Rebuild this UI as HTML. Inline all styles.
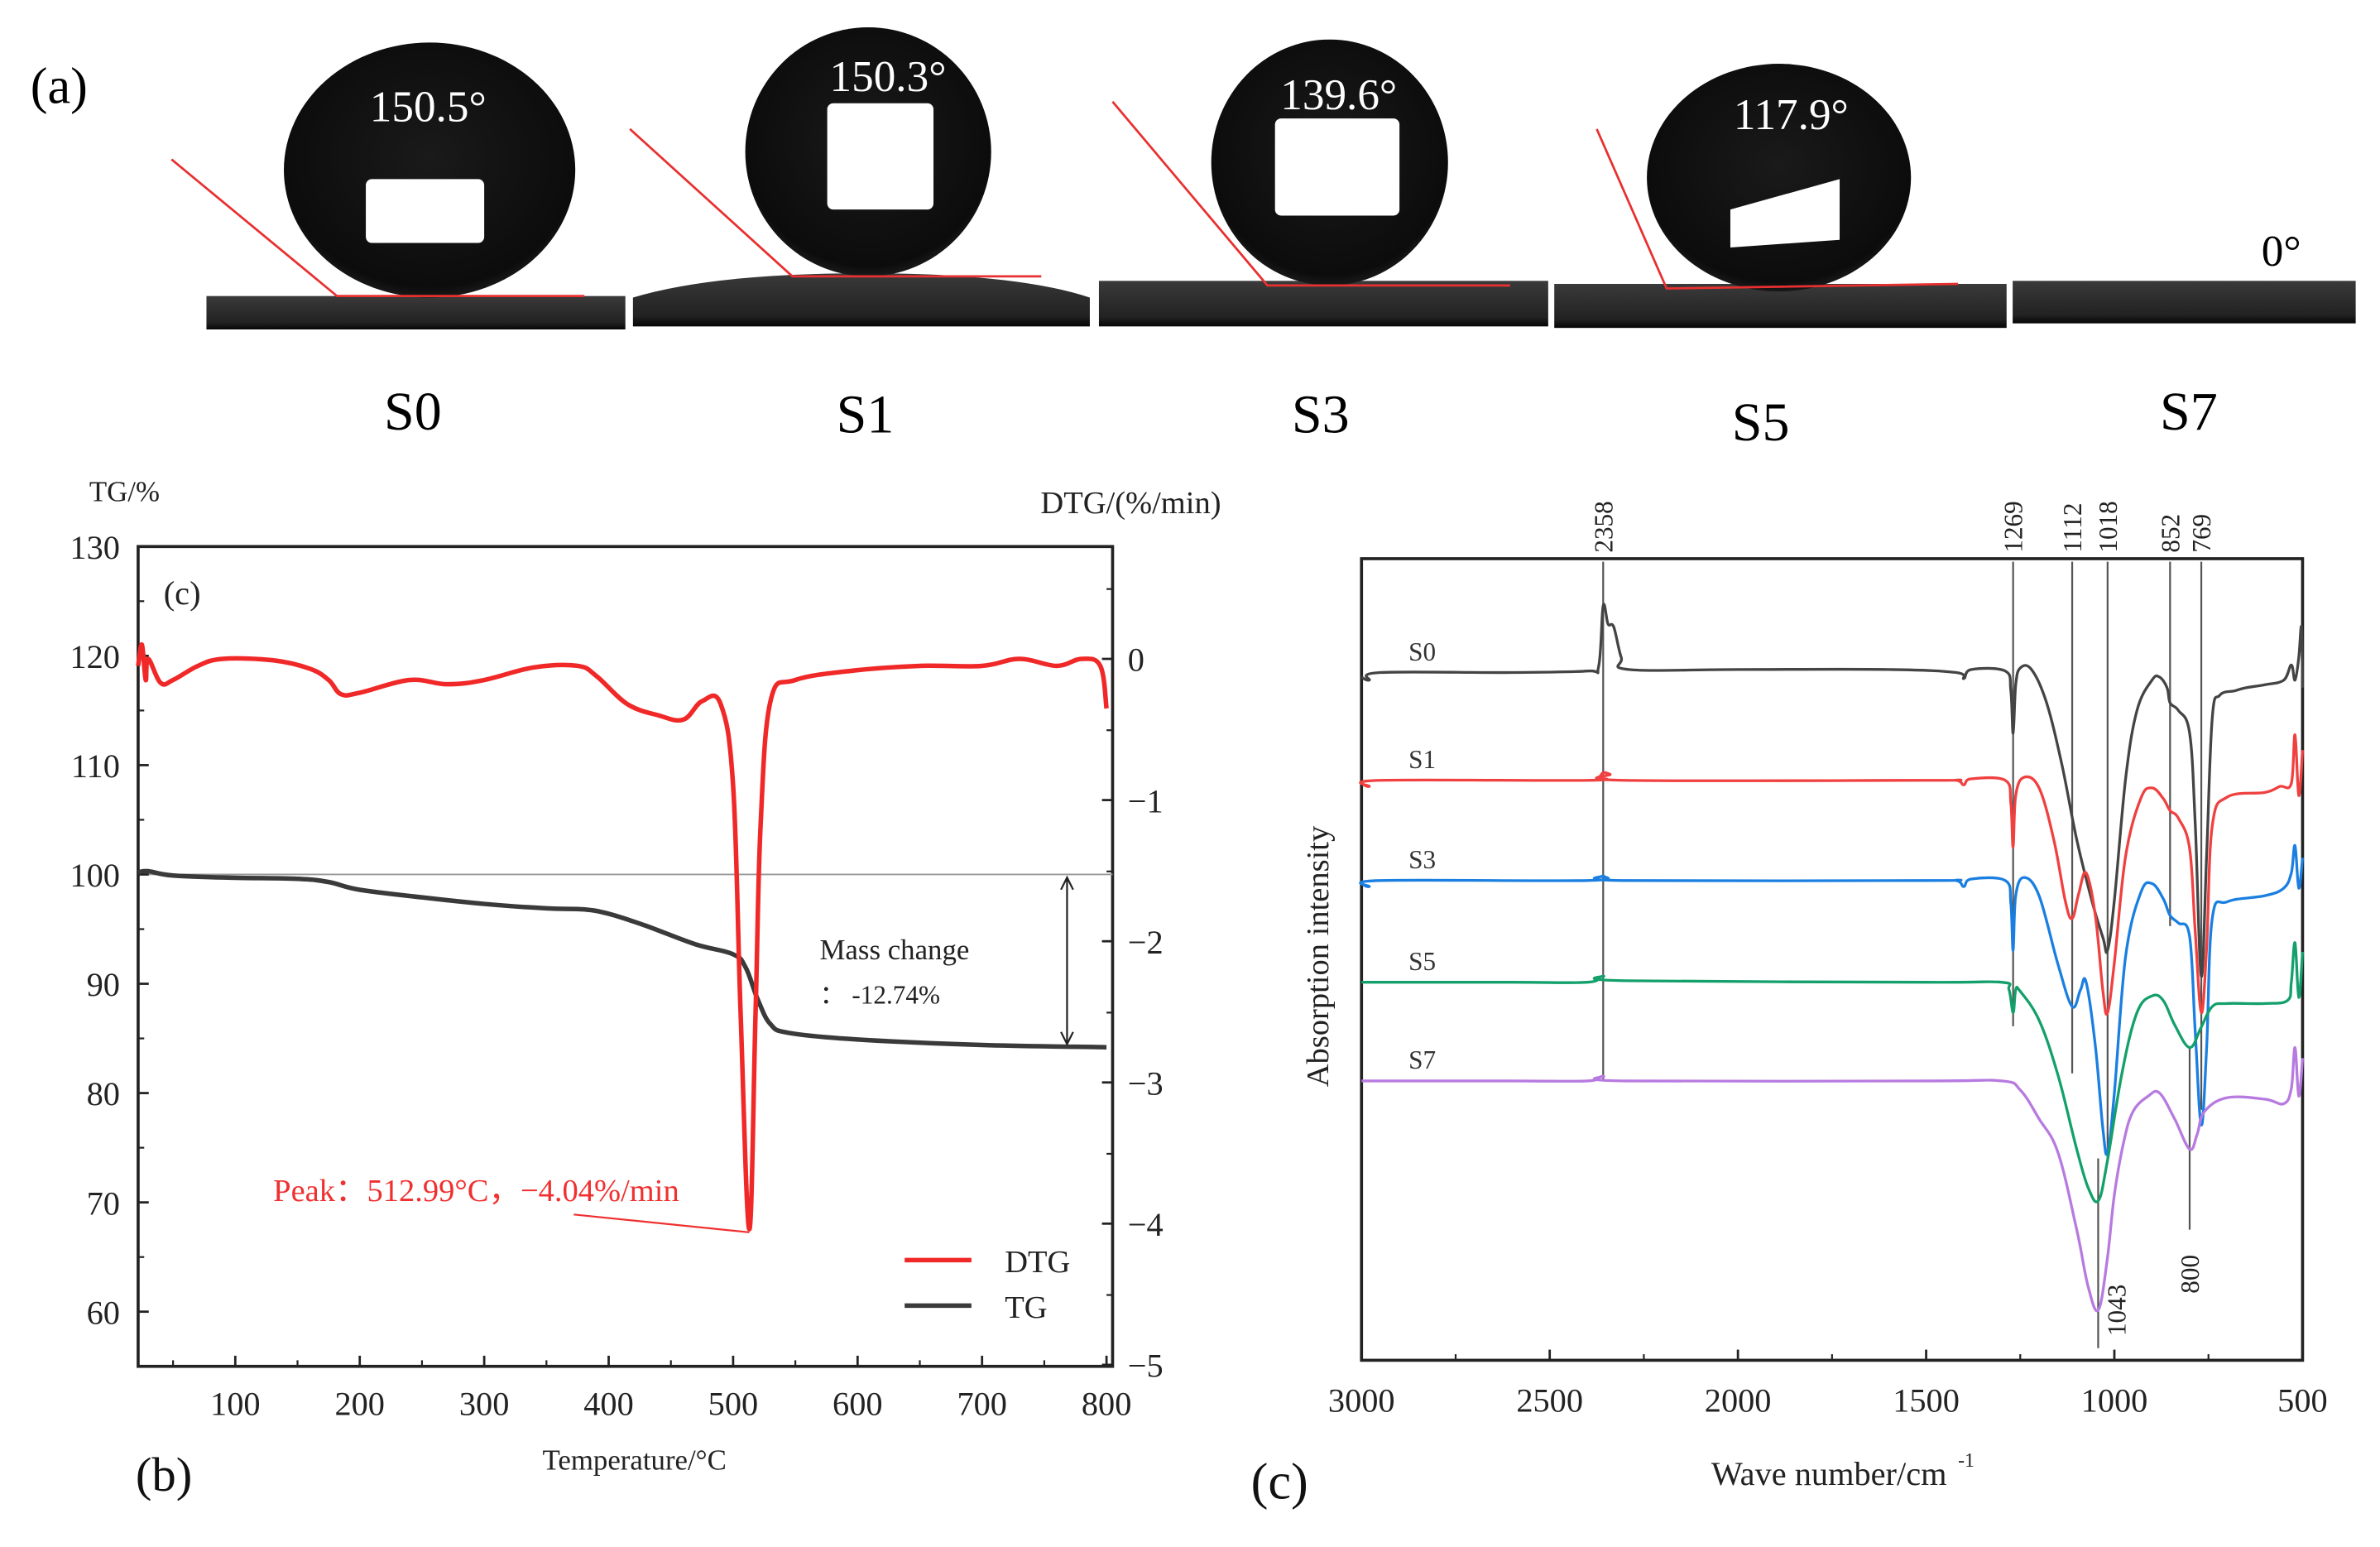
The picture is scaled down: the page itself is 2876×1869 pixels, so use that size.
<!DOCTYPE html>
<html><head><meta charset="utf-8"><style>
html,body{margin:0;padding:0;background:#fff}
svg{display:block}
text{font-family:"Liberation Serif",serif}
</style></head><body>
<svg id="fig" width="2876" height="1869" viewBox="0 0 1568 1019" xmlns="http://www.w3.org/2000/svg">
<defs>
<linearGradient id="sub" x1="0" y1="0" x2="0" y2="1"><stop offset="0" stop-color="#3a3a3a"/><stop offset="0.8" stop-color="#222"/><stop offset="1" stop-color="#050505"/></linearGradient>
<radialGradient id="drop" cx="0.5" cy="0.45" r="0.6"><stop offset="0" stop-color="#1a1a1a"/><stop offset="0.85" stop-color="#0c0c0c"/><stop offset="1" stop-color="#2a2a2a"/></radialGradient>
</defs>
<g id="panelA">
<text x="20" y="68" font-size="34">(a)</text>
<rect x="136" y="195" width="276" height="22" fill="url(#sub)"/>
<path d="M417 215 L417 196 Q470 180 570 180 Q670 180 718 196 L718 215 Z" fill="url(#sub)"/>
<rect x="724" y="185" width="296" height="30" fill="url(#sub)"/>
<rect x="1024" y="187" width="298" height="29" fill="url(#sub)"/>
<rect x="1326" y="185" width="226" height="28" fill="url(#sub)"/>
<ellipse cx="283" cy="112" rx="96" ry="84" fill="url(#drop)"/>
<rect x="241" y="118" width="78" height="42" fill="#fff" rx="4"/>
<ellipse cx="572" cy="100" rx="81" ry="82" fill="url(#drop)"/>
<rect x="545" y="68" width="70" height="70" fill="#fff" rx="4"/>
<ellipse cx="876" cy="107" rx="78" ry="81" fill="url(#drop)"/>
<rect x="840" y="78" width="82" height="64" fill="#fff" rx="4"/>
<ellipse cx="1172" cy="117" rx="87" ry="75" fill="url(#drop)"/>
<polygon points="1140,138 1212,118 1212,158 1140,163" fill="#fff"/>
<g stroke="#e83030" stroke-width="1.5" fill="none">
<path d="M113 105 L222 195 L385 195"/>
<path d="M415 85 L522 182 L686 182"/>
<path d="M733 67 L835 188 L995 188"/>
<path d="M1052 85 L1098 190 L1290 187"/>
</g>
<g fill="#fff" font-size="29" text-anchor="middle">
<text x="282" y="80">150.5°</text>
<text x="585" y="60">150.3°</text>
<text x="882" y="72">139.6°</text>
<text x="1180" y="85">117.9°</text>
</g>
<text x="1503" y="175" font-size="29" text-anchor="middle">0°</text>
<g font-size="36" text-anchor="middle">
<text x="272" y="283">S0</text>
<text x="570" y="285">S1</text>
<text x="870" y="285">S3</text>
<text x="1160" y="290">S5</text>
<text x="1442" y="283">S7</text>
</g>
</g>
<g id="panelB"></g>
<g id="panelC"></g>
</svg>
<script>
const tgTemp = [22,30,50,100,150,175,200,250,300,350,380,400,430,470,500,510,520,530,545,600,700,800];
const tgValue = [100.2,100.3,99.9,99.7,99.6,99.3,98.6,97.9,97.3,96.9,96.8,96.4,95.3,93.6,92.7,91.5,88.5,86.3,85.5,84.9,84.4,84.2];
const dtgTemp = [22,25,28,30,40,50,70,90,130,160,175,185,200,240,270,300,340,375,390,415,440,460,475,490,500,506,512.99,518,522,530,550,600,650,700,730,760,780,795,800];
const dtgValue = [-0.05,0.1,-0.15,0.0,-0.17,-0.15,-0.05,0.0,-0.01,-0.07,-0.15,-0.25,-0.24,-0.15,-0.18,-0.15,-0.06,-0.05,-0.12,-0.32,-0.40,-0.43,-0.30,-0.32,-0.9,-2.5,-4.04,-2.5,-1.2,-0.3,-0.15,-0.08,-0.05,-0.05,0.0,-0.05,0.0,-0.05,-0.35];
const tempTicks = [100,200,300,400,500,600,700,800];
const tgTicks = [60,70,80,90,100,110,120,130];
const dtgTicks = [0,-1,-2,-3,-4,-5];

const ftirTicks = [3000,2500,2000,1500,1000,500];
const seriesNames = ['S0','S1','S3','S5','S7'];
const seriesOffsets = [0,-71,-137,-204,-269];
const s0Wave = [3000,2980,2950,2600,2400,2370,2358,2345,2330,2310,2290,2000,1600,1420,1400,1380,1290,1275,1269,1262,1250,1220,1180,1140,1100,1060,1030,1018,1000,970,940,900,880,860,852,830,800,785,769,755,740,720,680,650,600,550,530,520,510,503,500];
const s0Val = [-3,-5,0,0,1,4,44,32,30,10,2,2,2,0,-4,2,1,-12,-40,-8,3,2,-20,-60,-110,-150,-175,-183,-150,-70,-25,-5,-3,-10,-20,-25,-40,-100,-200,-120,-30,-15,-12,-10,-8,-5,5,-5,10,30,-10];
const s1Wave = [3000,2980,2950,2400,2370,2358,2340,2300,1500,1420,1400,1380,1290,1275,1269,1262,1240,1200,1160,1130,1112,1095,1075,1050,1030,1018,1000,970,930,900,870,852,830,800,785,769,755,740,700,600,560,530,520,510,500];
const s1Val = [-2,-4,0,0,2,5,4,0,0,0,-3,1,0,-15,-44,-10,2,-5,-40,-80,-91,-75,-61,-90,-140,-153,-120,-50,-12,-5,-12,-20,-25,-45,-100,-153,-110,-30,-11,-8,-4,-2,30,-10,20];
const s3Wave = [3000,2980,2950,2400,2358,2300,1500,1420,1400,1380,1290,1275,1269,1262,1240,1200,1150,1112,1090,1075,1050,1030,1018,1000,970,930,900,870,852,830,800,785,769,755,740,700,600,550,530,520,510,500];
const s3Val = [-2,-4,0,0,3,0,0,0,-4,1,0,-15,-46,-10,2,-10,-55,-83,-72,-67,-110,-165,-179,-140,-50,-8,-2,-12,-23,-28,-37,-100,-161,-110,-25,-14,-10,-5,5,23,-5,15];
const s5Wave = [3000,2600,2400,2358,2300,1500,1300,1280,1269,1262,1250,1200,1150,1100,1070,1043,1020,980,940,900,870,840,800,770,740,700,600,540,530,520,510,500];
const s5Val = [0,0,0,4,1,0,0,-5,-20,-5,-6,-25,-61,-110,-135,-144,-120,-60,-20,-9,-12,-28,-43,-30,-16,-14,-14,-12,0,26,-10,20];
const s7Wave = [3000,2600,2400,2358,2300,1500,1300,1250,1200,1150,1100,1070,1043,1020,1000,975,950,910,880,840,800,780,760,700,600,550,530,520,510,500];
const s7Val = [0,0,0,3,0,0,0,-6,-25,-47,-98,-135,-151,-120,-75,-40,-20,-10,-8,-25,-45,-35,-20,-11,-12,-15,-5,22,-10,15];
const peakLabelsTop = [2358,1269,1112,1018,852,769];
const peakLabelsBottom = [1043,800];

const NS = 'http://www.w3.org/2000/svg';
function mk(tag, attrs, parent, txt){
  const e = document.createElementNS(NS, tag);
  for (const k in attrs) e.setAttribute(k, attrs[k]);
  if (txt !== undefined) e.textContent = txt;
  parent.appendChild(e);
  return e;
}
function smooth(pts){
  let d='M'+pts[0][0].toFixed(1)+' '+pts[0][1].toFixed(1);
  for(let i=0;i<pts.length-1;i++){
    const p0=pts[Math.max(0,i-1)],p1=pts[i],p2=pts[i+1],p3=pts[Math.min(pts.length-1,i+2)];
    const t=0.18;
    const c1=[p1[0]+(p2[0]-p0[0])*t,p1[1]+(p2[1]-p0[1])*t];
    const c2=[p2[0]-(p3[0]-p1[0])*t,p2[1]-(p3[1]-p1[1])*t];
    d+=` C${c1[0].toFixed(1)} ${c1[1].toFixed(1)} ${c2[0].toFixed(1)} ${c2[1].toFixed(1)} ${p2[0].toFixed(1)} ${p2[1].toFixed(1)}`;
  }
  return d;
}

(function(){
  const g = document.getElementById('panelB');
  const L=91,R=733,T=360,B=900;
  const xS = t => 73 + t*0.82;
  const yTG = v => 360 + (130-v)*7.2;
  const yDTG = v => 434 - v*93;
  let e;
  e = mk('rect',{x:L,y:T,width:R-L,height:B-T,fill:'none',stroke:'#222','stroke-width':2},g);
  
  
  e = mk('line',{x1:L,x2:R,y1:yTG(100),y2:yTG(100),stroke:'#999','stroke-width':1},g);
  
  
  tempTicks.forEach(t=>{
    const x=xS(t);
    e = mk('line',{x1:x,x2:x,y1:B,y2:B-7,stroke:'#222','stroke-width':1.5},g);
    
    
    e = mk('line',{x1:xS(t-50),x2:xS(t-50),y1:B,y2:B-4,stroke:'#222','stroke-width':1.2},g);
    
    
    e = mk('text',{x:x,y:B+32,'font-size':22,'text-anchor':'middle',fill:'#222'},g,String(t));
    
    
  });
  tgTicks.forEach(v=>{
    const y=yTG(v);
    e = mk('line',{x1:L,x2:L+7,y1:y,y2:y,stroke:'#222','stroke-width':1.5},g);
    
    
    e = mk('line',{x1:L,x2:L+4,y1:y+36,y2:y+36,stroke:'#222','stroke-width':1.2},g);
    
    
    e = mk('text',{x:L-12,y:y+8,'font-size':22,'text-anchor':'end',fill:'#222'},g,String(v));
    
    
  });
  dtgTicks.forEach(v=>{
    const y=yDTG(v);
    e = mk('line',{x1:R,x2:R-7,y1:y,y2:y,stroke:'#222','stroke-width':1.5},g);
    
    
    e = mk('line',{x1:R,x2:R-4,y1:y-46,y2:y-46,stroke:'#222','stroke-width':1.2},g);
    
    
    e = mk('text',{x:R+10,y:y+8,'font-size':22,fill:'#222'},g,v===0?'0':'\u2212'+Math.abs(v));
    
    
  });
  let d = smooth(tgTemp.map((t,i)=>[xS(t),yTG(tgValue[i])]));
  e = mk('path',{d:d,fill:'none',stroke:'#3a3a3a','stroke-width':3,'stroke-linejoin':'round'},g);
  
  
  d = smooth(dtgTemp.map((t,i)=>[xS(t),yDTG(dtgValue[i])]));
  e = mk('path',{d:d,fill:'none',stroke:'#f02828','stroke-width':3,'stroke-linejoin':'round'},g);
  
  
  e = mk('text',{x:82,y:330,'font-size':19,'text-anchor':'middle',fill:'#222'},g,'TG/%');
  
  
  e = mk('text',{x:745,y:338,'font-size':21,'text-anchor':'middle',fill:'#222'},g,'DTG/(%/min)');
  
  
  e = mk('text',{x:120,y:398,'font-size':22,'text-anchor':'middle',fill:'#222'},g,'(c)');
  
  
  e = mk('text',{x:108,y:982,'font-size':32,'text-anchor':'middle',fill:'#111'},g,'(b)');
  
  
  e = mk('text',{x:418,y:968,'font-size':19,'text-anchor':'middle',fill:'#222'},g,'Temperature/°C');
  
  
  e = mk('text',{x:540,y:632,'font-size':19,fill:'#222'},g,'Mass change');
  
  
  e = mk('text',{x:540,y:661,'font-size':17,fill:'#222'},g,'\uFF1A -12.74%');
  
  
  e = mk('path',{d:`M703 ${yTG(100)+2} L703 ${yTG(84.2)-2} M699 ${yTG(100)+10} L703 ${yTG(100)+2} L707 ${yTG(100)+10} M699 ${yTG(84.2)-10} L703 ${yTG(84.2)-2} L707 ${yTG(84.2)-10}`,stroke:'#222','stroke-width':1.2,fill:'none'},g);
  
  
  e = mk('text',{x:180,y:791,'font-size':21,fill:'#f03030'},g,'Peak\uFF1A512.99°C\uFF0C\u22124.04%/min');
  
  
  e = mk('line',{x1:378,y1:800,x2:xS(512.99),y2:yDTG(-4.04)+2,stroke:'#f03030','stroke-width':1.2},g);
  
  
  e = mk('line',{x1:596,x2:640,y1:830,y2:830,stroke:'#f02828','stroke-width':3},g);
  
  
  e = mk('text',{x:662,y:838,'font-size':21,fill:'#222'},g,'DTG');
  
  
  e = mk('line',{x1:596,x2:640,y1:860,y2:860,stroke:'#3a3a3a','stroke-width':3},g);
  
  
  e = mk('text',{x:662,y:868,'font-size':21,fill:'#222'},g,'TG');
  
  
})();

(function(){
  const g = document.getElementById('panelC');
  const L=897,R=1517,T=368,B=896;
  const xW = w => L + (3000-w)*(R-L)/2500;
  const base0 = 443;
  const yI = (v,off) => base0 - off - v;
  let e;
  e = mk('rect',{x:L,y:T,width:R-L,height:B-T,fill:'none',stroke:'#222','stroke-width':2},g);
  
  
  ftirTicks.forEach(w=>{
    const x=xW(w);
    e = mk('line',{x1:x,x2:x,y1:B,y2:B-7,stroke:'#222','stroke-width':1.5},g);
    
    
    if (w>500){
      e = mk('line',{x1:xW(w-250),x2:xW(w-250),y1:B,y2:B-4,stroke:'#222','stroke-width':1.2},g);
      
      
    }
    e = mk('text',{x:x,y:B+34,'font-size':22,'text-anchor':'middle',fill:'#222'},g,String(w));
    
    
  });
  const colors=['#444','#f04040','#1a7fe0','#13a06a','#b77ae0'];
  const waves=[s0Wave,s1Wave,s3Wave,s5Wave,s7Wave];
  const vals=[s0Val,s1Val,s3Val,s5Val,s7Val];
  const topEnds={2358:711,1269:676,1112:707,1018:763,852:610,769:731};
  peakLabelsTop.forEach(w=>{
    const x=xW(w);
    e = mk('line',{x1:x,x2:x,y1:370,y2:topEnds[w],stroke:'#555','stroke-width':1.2},g);
    
    
    e = mk('text',{x:0,y:0,'font-size':17,fill:'#222',transform:`translate(${x+6},364) rotate(-90)`},g,String(w));
    
    
  });
  const botSpans={1043:[763,888],800:[690,810]};
  peakLabelsBottom.forEach(w=>{
    const x=xW(w);
    e = mk('line',{x1:x,x2:x,y1:botSpans[w][0],y2:botSpans[w][1],stroke:'#555','stroke-width':1.2},g);
    
    
    const ty = w===1043?880:852;
    e = mk('text',{x:0,y:0,'font-size':17,fill:'#222',transform:`translate(${x+(w===1043?18:6)},${ty}) rotate(-90)`},g,String(w));
    
    
  });
  waves.forEach((wa,s)=>{
    const off=seriesOffsets[s];
    const d = smooth(wa.map((w,i)=>[xW(w),yI(vals[s][i],off)]));
    e = mk('path',{d:d,fill:'none',stroke:colors[s],'stroke-width':1.8,'stroke-linejoin':'round'},g);
    
    
    e = mk('text',{x:937,y:yI(0,off)-8,'font-size':17,'text-anchor':'middle',fill:'#333'},g,seriesNames[s]);
    
    
  });
  e = mk('text',{x:0,y:0,'font-size':21,'text-anchor':'middle',fill:'#222',transform:'translate(875,630) rotate(-90)'},g,'Absorption intensity');
  
  
  e = mk('text',{x:1205,y:978,'font-size':22,'text-anchor':'middle',fill:'#222'},g,'Wave number/cm');
  
  
  e = mk('text',{x:1290,y:966,'font-size':13,fill:'#222'},g,'-1');
  
  
  e = mk('text',{x:843,y:987,'font-size':34,'text-anchor':'middle',fill:'#111','font-family':'Liberation Sans, sans-serif'},g,'(c)');
  
  
})();
</script>
</body></html>
